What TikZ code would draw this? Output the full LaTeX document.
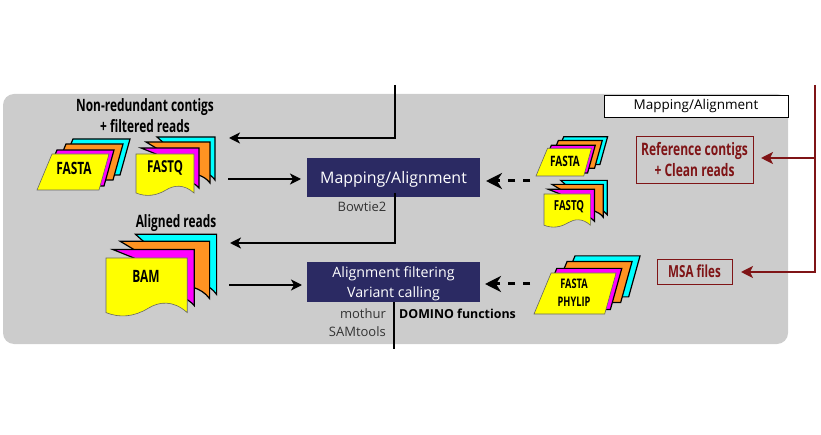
\documentclass[tikz,border=0pt]{standalone}
\usepackage{fontspec}
\setmainfont{Open Sans}
\newfontfamily\condfont[FakeStretch=0.7]{Open Sans}
\usetikzlibrary{arrows.meta}
\definecolor{panelgray}{HTML}{CCCCCC}
\definecolor{boxnavy}{HTML}{2B2A63}
\definecolor{darkred}{HTML}{7F1416}
\definecolor{sheetorange}{HTML}{FF9322}
\definecolor{sheetcyan}{HTML}{00FFFF}
\definecolor{sheetpink}{HTML}{FF00FF}
\definecolor{sheetyellow}{HTML}{FFFF00}
\tikzset{
  sheet/.style={draw=black, line width=1.2pt, line join=miter},
  topsheet/.style={draw=black!60, line width=0.6pt, fill=sheetyellow},
  parastack/.pic={
    \foreach \dx/\dy/\col in {21/-15/sheetcyan, 14/-10/sheetorange, 5/-4/sheetpink}
      \path[sheet, fill=\col] (\dx,\dy) -- ++(62,0) -- ++(10,-36) -- ++(-57,0) -- cycle;
    \path[topsheet] (0,0) -- (62,0) -- (72,-36) -- (15,-36) -- cycle;
  },
  docstack/.pic={
    \path[sheet, fill=sheetcyan] (21,-17) -- (79,-17) -- (79,26) .. controls (74,19) and (66,17) .. (60,18) -- (40,0) -- cycle;
    \path[sheet, fill=sheetorange] (10,-12) -- (74,-12) -- (74,29) .. controls (68,21) and (58,19) .. (50,20) -- (30,0) -- cycle;
    \path[sheet, fill=sheetpink] (5,-6) -- (63,-6) -- (63,34) .. controls (58,28) and (50,26) .. (44,27) -- (20,0) -- cycle;
    \path[topsheet] (0,0) -- (58,0) -- (58,39) .. controls (48,30) and (38,31) .. (30,36)
      .. controls (20,42) and (10,43) .. (0,39) -- cycle;
  },
  flow/.style={draw=black, line width=1.7pt, -{Stealth[length=11pt, width=11pt, inset=3pt]}},
  plainline/.style={draw=black, line width=1.7pt},
  dashflow/.style={draw=black, line width=3pt, dash pattern=on 7pt off 8pt, -{Stealth[length=16pt, width=16pt, inset=5pt]}},
  redflow/.style={draw=darkred, line width=1.7pt, -{Stealth[length=12pt, width=12pt, inset=3pt]}},
  stepbox/.style={fill=boxnavy, text=white, align=center, inner sep=0pt, minimum width=173pt, text depth=0pt},
  redbox/.style={draw=darkred, line width=0.9pt, text=darkred, align=center, inner sep=0pt},
  filelabel/.style={align=center, inner sep=0pt},
  headlabel/.style={align=center, font=\condfont\bfseries\fontsize{17}{21}\selectfont, inner sep=0pt},
  toollabel/.style={font=\fontsize{13}{14}\selectfont, text=black!80, inner sep=0pt}
}
\begin{document}
\begin{tikzpicture}[x=1pt, y=-1pt]
\useasboundingbox (0,0) rectangle (821,435);

\path[fill=panelgray, rounded corners=11pt] (3,94) rectangle (788,344);
\node[draw=black, line width=0.9pt, fill=white, minimum width=184pt, minimum height=22pt, inner sep=0pt, font=\fontsize{13.5}{15}\selectfont] (title) at (696,106) {Mapping/Alignment};

\node[stepbox, minimum height=39pt, font=\fontsize{15.9}{20}\selectfont] (map) at (393.5,177.5) {Mapping/Alignment};
\node[stepbox, minimum height=40pt, font=\fontsize{14.2}{19.5}\selectfont] (filt) at (393.5,282) {Alignment filtering\\ Variant calling};

\node[headlabel] (nonred) at (145,115.5) {Non-redundant contigs\\ + filtered reads};
\node[headlabel] (aligned) at (176,223) {Aligned reads};

\pic at (37,190) {parastack};
\pic at (136,154) {docstack};
\pic[scale=1.4] at (106,258) {docstack};
\pic[scale=0.77] at (536,176) {parastack};
\pic[scale=0.8] at (544,194) {docstack};
\pic[scale=1.14] at (534,314) {parastack};

\node[filelabel, font=\condfont\bfseries\fontsize{17}{20}\selectfont] (fastaleft) at (74,168) {FASTA};
\node[filelabel, font=\condfont\bfseries\fontsize{16.4}{20}\selectfont] (fastqleft) at (165,168) {FASTQ};
\node[filelabel, font=\condfont\bfseries\fontsize{17}{20}\selectfont] (bam) at (146,276) {BAM};
\node[filelabel, font=\condfont\bfseries\fontsize{14.3}{16}\selectfont] (fastaright) at (565,161) {FASTA};
\node[filelabel, font=\condfont\bfseries\fontsize{13.8}{16}\selectfont] (fastqright) at (569,207) {FASTQ};
\node[filelabel, font=\condfont\bfseries\fontsize{13.2}{18}\selectfont] (phylip) at (574,293) {FASTA\\ PHYLIP};

\node[redbox, minimum width=117pt, minimum height=47pt, font=\condfont\bfseries\fontsize{17.2}{21}\selectfont] (ref) at (694.5,159.5) {Reference contigs\\ + Clean reads};
\node[redbox, minimum width=75pt, minimum height=25pt, font=\condfont\bfseries\fontsize{16.6}{20}\selectfont] (msa) at (694.5,271.5) {MSA files};

\node[toollabel] (bowtie) at (362,207) {Bowtie2};
\node[toollabel, anchor=east] (mothur) at (386,314) {mothur};
\node[toollabel, anchor=east] (samtools) at (386,332) {SAMtools};
\node[inner sep=0pt, anchor=west, font=\bfseries\fontsize{12.4}{14}\selectfont] (domino) at (399,314) {DOMINO functions};

\coordinate (topin) at (395,85);
\coordinate (toptip) at (229,138);
\coordinate (midtip) at (230,243);
\coordinate (fromfasta) at (228,179);
\coordinate (mapin) at (301,179);
\coordinate (frombam) at (229,285);
\coordinate (filtin) at (302,285);
\coordinate (mapdrop) at (395,193);
\coordinate (bottomend) at (394,349);
\coordinate (dashmap) at (530,181);
\coordinate (mapdash) at (486,181);
\coordinate (dashfilt) at (530,284);
\coordinate (filtdash) at (485,284);
\coordinate (redtop) at (815,85);
\coordinate (redref) at (761,158);
\coordinate (redmsa) at (741,272);

\draw[flow] (topin) |- (toptip);
\draw[flow] (fromfasta) -- (mapin);
\draw[flow] (mapdrop) |- (midtip);
\draw[flow] (frombam) -- (filtin);
\draw[plainline] (filt.south -| bottomend) -- (bottomend);
\draw[dashflow] (dashmap) -- (mapdash);
\draw[dashflow] (dashfilt) -- (filtdash);
\draw[redflow] (redtop) |- (redmsa);
\draw[redflow] (redtop |- redref) -- (redref);
\end{tikzpicture}
\end{document}
